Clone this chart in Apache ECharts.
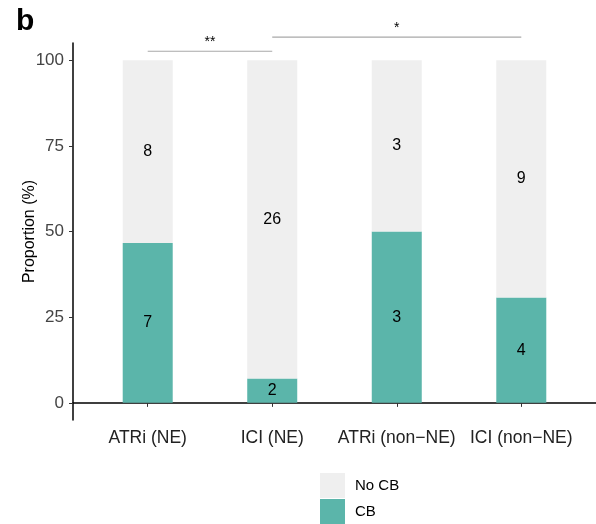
<!DOCTYPE html>
<html>
<head>
<meta charset="utf-8">
<script src="https://cdn.jsdelivr.net/npm/echarts@6/dist/echarts.min.js"></script>
<style>
  html, body { margin: 0; padding: 0; background: #fff; }
  #chart { width: 596px; height: 524px; }
</style>
</head>
<body>
<div id="chart"></div>
<script>
// groups and patient counts
const groups = ['ATRi (NE)', 'ICI (NE)', 'ATRi (non\u2212NE)', 'ICI (non\u2212NE)'];
const cbCounts = [7, 2, 3, 4];
const noCbCounts = [8, 26, 3, 9];
const yTicks = [0, 25, 50, 75, 100];
// significance brackets: from group, to group, height (%), mark
const brackets = [
  { from: 1, to: 2, y: 102.6, mark: '**' },
  { from: 2, to: 4, y: 106.7, mark: '*' },
];

const font = 'Liberation Sans';
const cbColor = '#5bb5aa';
const noCbColor = '#efefef';

// proportions from counts
const cbPct = cbCounts.map((c, i) => (c / (c + noCbCounts[i])) * 100);
const noCbPct = noCbCounts.map((c, i) => (c / (c + cbCounts[i])) * 100);

const chart = echarts.init(document.getElementById('chart'));

const segLabel = (counts) => ({
  show: true,
  position: 'inside',
  color: '#000',
  fontFamily: font,
  fontSize: 16,
  formatter: (p) => String(counts[p.dataIndex]),
});

chart.setOption({
  animation: false,
  title: {
    text: 'b',
    left: 11,
    top: 2,
    textStyle: { fontFamily: font, fontSize: 30, fontWeight: 'bold', color: '#000' },
  },
  legend: {
    data: ['No CB', 'CB'],
    orient: 'vertical',
    left: 320,
    top: 473,
    padding: 0,
    icon: 'rect',
    itemWidth: 25,
    itemHeight: 25,
    itemGap: 1,
    textStyle: { fontFamily: font, fontSize: 15, color: '#000', padding: [0, 0, 0, 5] },
  },
  grid: { left: 73, top: 43, width: 525, height: 377, containLabel: false },
  xAxis: {
    type: 'value',
    min: 0.4,
    max: 4.6,
    axisLine: { show: true, lineStyle: { color: '#000', width: 1.5 } },
    axisTick: { show: true, length: 4, lineStyle: { color: '#333' }, customValues: [1, 2, 3, 4] },
    axisLabel: {
      customValues: [1, 2, 3, 4],
      formatter: (v) => groups[Math.round(v) - 1],
      fontFamily: font,
      fontSize: 17.5,
      color: '#222',
      margin: 9,
    },
    splitLine: { show: false },
  },
  yAxis: {
    type: 'value',
    min: -5,
    max: 105,
    name: 'Proportion (%)',
    nameLocation: 'middle',
    nameGap: 35,
    nameMoveOverlap: false,
    nameTextStyle: { fontFamily: font, fontSize: 16, color: '#000' },
    axisLine: { show: true, lineStyle: { color: '#000', width: 1.5 } },
    axisTick: { show: true, length: 4, lineStyle: { color: '#333' }, customValues: yTicks },
    axisLabel: {
      customValues: yTicks,
      fontFamily: font,
      fontSize: 17,
      color: '#444',
      margin: 9,
    },
    splitLine: { show: false },
  },
  series: [
    {
      name: 'CB',
      type: 'bar',
      stack: 'p',
      barWidth: 50,
      encode: { x: 1, y: 0 },
      itemStyle: { color: cbColor },
      label: segLabel(cbCounts),
      data: cbPct.map((v, i) => [v, i + 1]),
    },
    {
      name: 'No CB',
      type: 'bar',
      stack: 'p',
      barWidth: 50,
      encode: { x: 1, y: 0 },
      itemStyle: { color: noCbColor },
      label: segLabel(noCbCounts),
      data: noCbPct.map((v, i) => [v, i + 1]),
    },
  ],
});

// significance brackets placed through the axes
const graphics = [];
brackets.forEach((b) => {
  const p1 = chart.convertToPixel({ gridIndex: 0 }, [b.from, b.y]);
  const p2 = chart.convertToPixel({ gridIndex: 0 }, [b.to, b.y]);
  graphics.push({
    type: 'line',
    shape: { x1: p1[0], y1: p1[1], x2: p2[0], y2: p2[1] },
    style: { stroke: '#a8a8a8', lineWidth: 1.2 },
  });
  graphics.push({
    type: 'text',
    x: (p1[0] + p2[0]) / 2,
    y: p1[1] - 2,
    style: {
      text: b.mark,
      fontFamily: font,
      fontSize: 14,
      fill: '#000',
      align: 'center',
      verticalAlign: 'bottom',
    },
  });
});
chart.setOption({ graphic: graphics });
</script>
</body>
</html>
